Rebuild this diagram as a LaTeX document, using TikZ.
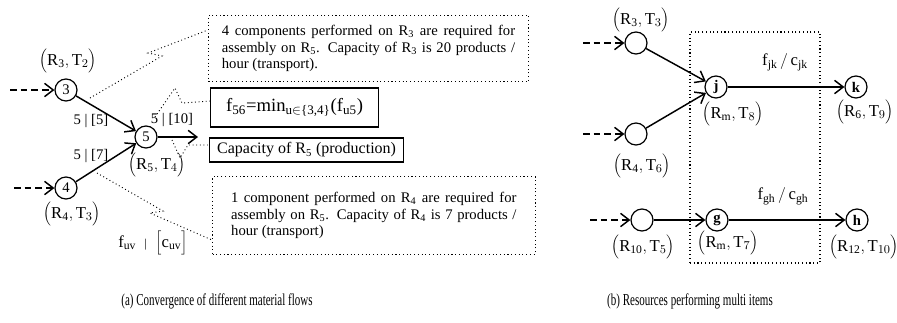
\documentclass[tikz,border=0pt]{standalone}
\usepackage{fontspec}
\setmainfont{Liberation Serif}
\usetikzlibrary{arrows.meta}
\hyphenpenalty=10000
\exhyphenpenalty=10000
\tikzset{
	>={Straight Barb[length=6.5pt,width=10pt]},
	circ/.style={circle, draw, line width=0.9pt, minimum size=16.5pt, inner sep=0pt,
			font=\fontsize{11}{12}\selectfont},
	flow/.style={->, line width=1.1pt},
	feed/.style={->, line width=1.1pt, dash pattern=on 5pt off 3pt},
	note/.style={draw, dotted, line width=0.8pt, anchor=west, align=justify,
			font=\fontsize{11}{12.6}\selectfont},
	plainbox/.style={draw, line width=0.9pt, anchor=west, align=center},
	callout/.style={dotted, line width=0.7pt},
	lbl/.style={inner sep=0pt, font=\fontsize{11}{13}\selectfont},
	rtlbl/.style={inner sep=0pt, font=\fontsize{12.5}{14}\selectfont},
	captext/.style={inner sep=0pt, font=\fontsize{12.5}{14}\selectfont}
}
\newcommand{\restask}[2]{$\Bigl(\mathrm{R}_{\mathrm{#1}},\mathrm{T}_{#2}\Bigr)$}

\begin{document}
\begin{tikzpicture}[x=0.75pt,y=-0.75pt]
	\useasboundingbox (0,0) rectangle (897,322);

	% (a) convergence
	\node[circ] (n3) at (66,90) {3};
	\node[circ] (n4) at (66,188) {4};
	\node[circ] (n5) at (146,137) {5};
	\coordinate (in3) at (10,90);
	\coordinate (in4) at (14,188);
	\coordinate (out5) at (198,137);

	\draw[feed] (in3) -- (n3);
	\draw[feed] (in4) -- (n4);
	\draw[flow] (n3) -- (n5);
	\draw[flow] (n4) -- (n5);
	\draw[flow] (n5) -- (out5);

	\node[rtlbl] (r3) at (68,61) {\restask{3}{2}};
	\node[rtlbl] (r4) at (72,214) {\restask{4}{3}};
	\node[rtlbl] (r5) at (157,165) {\restask{5}{4}};
	\node[lbl] (e35) at (91,121) {5 | [5]};
	\node[lbl] (e45) at (91,156) {5 | [7]};
	\node[lbl] (e5o) at (172,120) {5 | [10]};
	\node[rtlbl] (fuv) at (153,243) {$\mathrm{f}_{\mathrm{uv}}$\enspace{\small|}\enspace$\Bigl[\mathrm{c}_{\mathrm{uv}}\Bigr]$};

	\node[note, text width=220pt, inner xsep=10pt, minimum height=50pt] (note1) at (208,48.5)
		{4 components performed on R\textsubscript{3} are required for assembly on R\textsubscript{5}. Capacity of R\textsubscript{3} is 20 products / hour (transport).};
	\node[plainbox, minimum width=126pt, minimum height=29.25pt, font=\fontsize{14}{16}\selectfont] (minbox) at (210,107.5)
		{f\textsubscript{56}=min\textsubscript{u$\in$\{3,4\}}(f\textsubscript{u5})};
	\node[plainbox, minimum width=145.5pt, minimum height=18pt, font=\fontsize{12}{14}\selectfont] (capbox) at (209,150)
		{Capacity of R\textsubscript{5} (production)};
	\node[note, text width=214pt, inner xsep=14pt, minimum height=58pt] (note2) at (212,215.5)
		{1 component performed on R\textsubscript{4} are required for assembly on R\textsubscript{5}. Capacity of R\textsubscript{4} is 7 products / hour (transport)};

	\draw[callout] (90,98) -- (162,56) -- (148,53) -- (note1.west |- 0,30);
	\draw[callout] (155,117) -- (175,88) -- (182,103) -- (minbox.west |- 0,101);
	\draw[callout] (172,140) -- (180,158) -- (188,145) -- (capbox.west |- 0,145);
	\draw[callout] (97,173) -- (163,211) -- (150,213) -- (note2.west |- 0,240);

	% (b) multi items
	\node[draw, dotted, line width=0.8pt, minimum width=97.5pt, minimum height=173.25pt] (grp) at (755,147.5) {};
	\node[circ] (a) at (636,43) {};
	\node[circ] (b) at (636,134) {};
	\node[circ] (c) at (642,220) {};
	\node[circ, font=\fontsize{11}{12}\bfseries] (j) at (716,87) {j};
	\node[circ, font=\fontsize{11}{12}\bfseries] (k) at (856,87) {k};
	\node[circ, font=\fontsize{11}{12}\bfseries] (g) at (717,220) {g};
	\node[circ, font=\fontsize{11}{12}\bfseries] (h) at (857,220) {h};
	\coordinate (ina) at (583,43);
	\coordinate (inb) at (583,134);
	\coordinate (inc) at (590,220);

	\draw[feed] (ina) -- (a);
	\draw[feed] (inb) -- (b);
	\draw[feed] (inc) -- (c);
	\draw[flow] (a) -- (j);
	\draw[flow] (b) -- (j);
	\draw[flow] (j) -- (k);
	\draw[flow] (c) -- (g);
	\draw[flow] (g) -- (h);

	\node[rtlbl] (ra) at (641,20) {\restask{3}{3}};
	\node[rtlbl] (rb) at (642,166) {\restask{4}{6}};
	\node[rtlbl] (rc) at (643,247) {\restask{10}{5}};
	\node[rtlbl] (rj) at (733,114) {\restask{m}{8}};
	\node[rtlbl] (rk) at (865,112) {\restask{6}{9}};
	\node[rtlbl] (rg) at (728,243) {\restask{m}{7}};
	\node[rtlbl] (rh) at (864,247) {\restask{12}{10}};
	\node[rtlbl] (fjk) at (785,62) {$\mathrm{f}_{\mathrm{jk}}\,/\,\mathrm{c}_{\mathrm{jk}}$};
	\node[rtlbl] (fgh) at (783,196) {$\mathrm{f}_{\mathrm{gh}}\,/\,\mathrm{c}_{\mathrm{gh}}$};

	% captions
	\node[captext] (capa) at (217,301) {\scalebox{0.66}[1]{(a) Convergence of different material flows}};
	\node[captext] (capb) at (690,301) {\scalebox{0.66}[1]{(b) Resources performing multi items}};
\end{tikzpicture}
\end{document}
